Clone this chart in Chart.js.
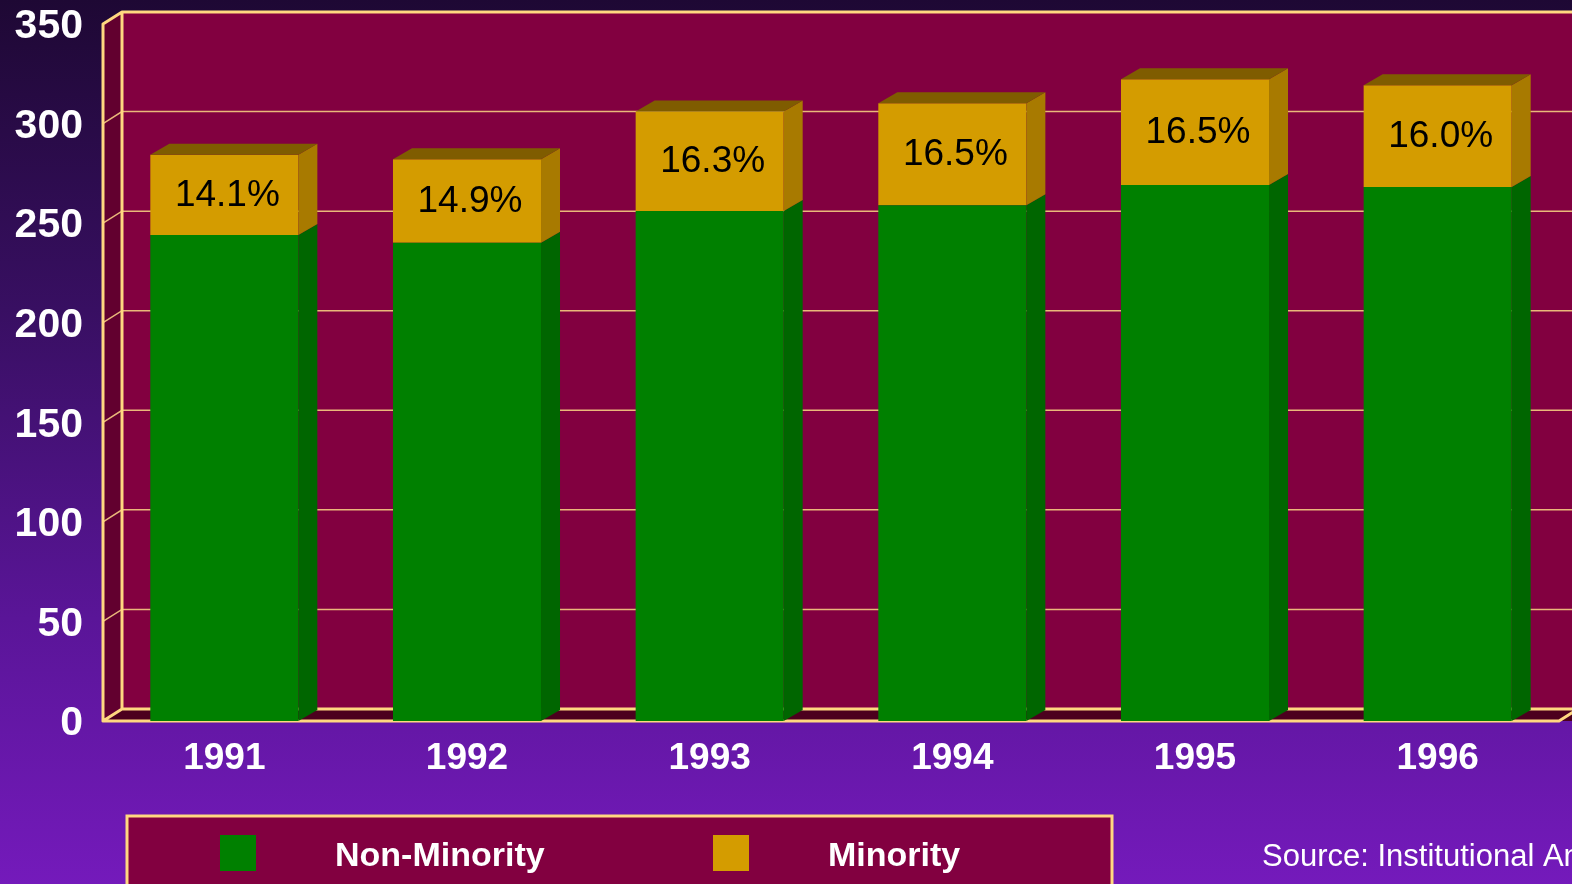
<!DOCTYPE html>
<html>
<head>
<meta charset="utf-8">
<script src="https://cdn.jsdelivr.net/npm/chart.js@4/dist/chart.umd.min.js"></script>
<style>
  html, body { margin: 0; padding: 0; overflow: hidden; background: #220a38; }
  canvas { display: block; }
</style>
</head>
<body>
<canvas id="graf" width="1572" height="884"></canvas>
<script>
// podaci ocitani sa slike
const godine = ["1991", "1992", "1993", "1994", "1995", "1996"];
const nonMinority = [244.1, 240.1, 256.1, 259.0, 269.2, 268.1];
const minority = [40.2, 42.0, 50.0, 51.2, 53.1, 51.2];
const postoci = ["14.1%", "14.9%", "16.3%", "16.5%", "16.5%", "16.0%"];
const yTicks = [0, 50, 100, 150, 200, 250, 300, 350];
const izvor = "Source: Institutional Analysis";

const ZUTA = "#ffd880";
const WALL = { dx: 19, dy: -12 };
const BAR = { dx: 19, dy: -11 };

function poly(ctx, pts, fill) {
  ctx.beginPath();
  ctx.moveTo(pts[0][0], pts[0][1]);
  for (let i = 1; i < pts.length; i++) ctx.lineTo(pts[i][0], pts[i][1]);
  ctx.closePath();
  ctx.fillStyle = fill;
  ctx.fill();
}

const pozadina = {
  id: "pozadina",
  beforeDraw(chart) {
    const ctx = chart.ctx;
    const g = ctx.createLinearGradient(0, 0, 0, chart.height);
    g.addColorStop(0, "#1e0834");
    g.addColorStop(0.35, "#380f62");
    g.addColorStop(0.7, "#5a1598");
    g.addColorStop(1, "#741abb");
    ctx.save();
    ctx.fillStyle = g;
    ctx.fillRect(0, 0, chart.width, chart.height);
    ctx.restore();
  }
};

const zidovi = {
  id: "zidovi",
  beforeDatasetsDraw(chart) {
    const ctx = chart.ctx;
    const a = chart.chartArea;
    const y = chart.scales.y;
    const dx = WALL.dx, dy = WALL.dy;
    const W = chart.width + 20;
    ctx.save();
    // zadnji zid
    ctx.fillStyle = "#820040";
    ctx.fillRect(a.left + dx, a.top + dy, W, a.bottom - a.top);
    // lijevi zid
    poly(ctx, [[a.left, a.top], [a.left + dx, a.top + dy], [a.left + dx, a.bottom + dy], [a.left, a.bottom]], "#62002f");
    // pod
    poly(ctx, [[a.left, a.bottom], [a.left + dx, a.bottom + dy], [W, a.bottom + dy], [W, a.bottom]], "#4c001e");

    // mreza
    ctx.strokeStyle = "#eab87a";
    ctx.lineWidth = 1.5;
    yTicks.forEach(v => {
      if (v === 0 || v === 350) return;
      const py = y.getPixelForValue(v);
      ctx.beginPath();
      ctx.moveTo(a.left, py);
      ctx.lineTo(a.left + dx, py + dy);
      ctx.lineTo(W, py + dy);
      ctx.stroke();
    });

    // rubovi
    ctx.strokeStyle = ZUTA;
    ctx.lineWidth = 3;
    ctx.lineJoin = "round";
    ctx.lineCap = "round";
    ctx.beginPath();
    ctx.moveTo(a.left, a.bottom);
    ctx.lineTo(a.left, a.top);
    ctx.lineTo(a.left + dx, a.top + dy);
    ctx.lineTo(W, a.top + dy);
    ctx.moveTo(a.left + dx, a.top + dy);
    ctx.lineTo(a.left + dx, a.bottom + dy);
    ctx.lineTo(W, a.bottom + dy);
    ctx.moveTo(a.left + dx, a.bottom + dy);
    ctx.lineTo(a.left, a.bottom);
    ctx.lineTo(a.right, a.bottom);
    ctx.lineTo(a.right + dx, a.bottom + dy);
    ctx.stroke();
    ctx.restore();
  }
};

const kocke = {
  id: "kocke",
  afterDatasetsDraw(chart) {
    const ctx = chart.ctx;
    const m0 = chart.getDatasetMeta(0).data;
    const m1 = chart.getDatasetMeta(1).data;
    const dx = BAR.dx, dy = BAR.dy;
    ctx.save();
    m0.forEach((b0, i) => {
      const b1 = m1[i];
      const xl = b0.x - b0.width / 2, xr = b0.x + b0.width / 2;
      const yBase = b0.base, yMid = b0.y, yTop = b1.y;
      poly(ctx, [[xr, yMid], [xr + dx, yMid + dy], [xr + dx, yBase + dy], [xr, yBase]], "#006600");
      poly(ctx, [[xr, yTop], [xr + dx, yTop + dy], [xr + dx, yMid + dy], [xr, yMid]], "#a87a00");
      poly(ctx, [[xl, yTop], [xl + dx, yTop + dy], [xr + dx, yTop + dy], [xr, yTop]], "#7f5c00");

      ctx.fillStyle = "#000000";
      ctx.font = "37px Arial, 'Liberation Sans', sans-serif";
      ctx.textAlign = "center";
      ctx.textBaseline = "middle";
      ctx.fillText(postoci[i], b1.x + 3, (b1.y + b1.base) / 2 + 1);
    });
    ctx.restore();
  }
};

const legenda = {
  id: "legenda",
  afterDraw(chart) {
    const ctx = chart.ctx;
    const ds = chart.data.datasets;
    ctx.save();
    ctx.fillStyle = "#820040";
    ctx.fillRect(127, 816, 985, 80);
    ctx.strokeStyle = ZUTA;
    ctx.lineWidth = 3;
    ctx.strokeRect(127, 816, 985, 80);

    const xs = [[220, 335], [713, 828]];
    ctx.font = "bold 34px Arial, 'Liberation Sans', sans-serif";
    ctx.textBaseline = "middle";
    ctx.textAlign = "left";
    ds.forEach((d, i) => {
      ctx.fillStyle = d.backgroundColor;
      ctx.fillRect(xs[i][0], 835, 36, 36);
      ctx.fillStyle = "#ffffff";
      ctx.fillText(d.label, xs[i][1], 857);
    });

    ctx.font = "31px Arial, 'Liberation Sans', sans-serif";
    ctx.fillText(izvor, 1262, 857);
    ctx.restore();
  }
};

const ctx = document.getElementById("graf").getContext("2d");
const chart = new Chart(ctx, {
  type: "bar",
  data: {
    labels: godine,
    datasets: [
      { label: "Non-Minority", data: nonMinority, backgroundColor: "#008000", borderWidth: 0 },
      { label: "Minority", data: minority, backgroundColor: "#d49c00", borderWidth: 0 }
    ]
  },
  options: {
    responsive: false,
    animation: false,
    layout: { padding: { top: 24, right: 13, left: 0, bottom: 0 } },
    datasets: { bar: { barPercentage: 0.61, categoryPercentage: 1 } },
    plugins: { legend: { display: false }, tooltip: { enabled: false } },
    scales: {
      x: {
        stacked: true,
        grid: { display: false },
        border: { display: false },
        ticks: {
          color: "#ffffff",
          padding: 8,
          font: { family: "Arial, 'Liberation Sans', sans-serif", size: 37, weight: "bold" }
        },
        afterFit(scale) {
          scale.height = 163;
          scale.paddingLeft = 0;
          scale.paddingRight = 0;
        }
      },
      y: {
        stacked: true,
        min: 0,
        max: 350,
        grid: { display: false },
        border: { display: false },
        afterBuildTicks(scale) { scale.ticks = yTicks.map(v => ({ value: v })); },
        ticks: {
          color: "#ffffff",
          padding: 12,
          labelOffset: 3,
          font: { family: "Arial, 'Liberation Sans', sans-serif", size: 41, weight: "bold" }
        },
        afterFit(scale) {
          scale.width = 103;
          scale.paddingTop = 0;
          scale.paddingBottom = 0;
        }
      }
    }
  },
  plugins: [pozadina, zidovi, kocke, legenda]
});
</script>
</body>
</html>
